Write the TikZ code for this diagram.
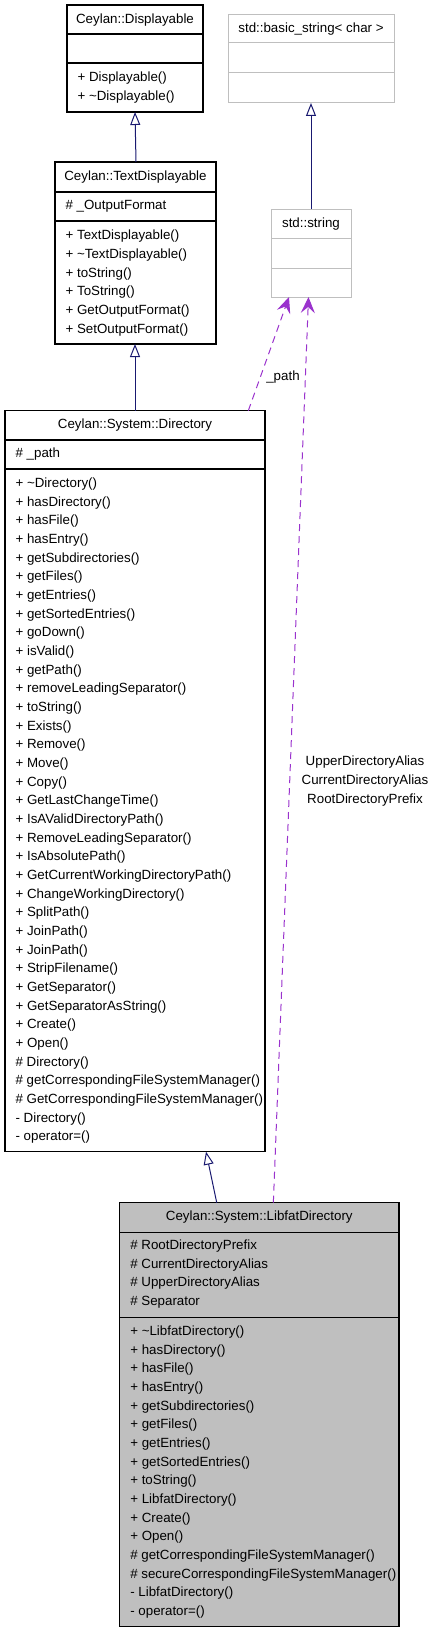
\documentclass[tikz,border=0pt]{standalone}
\usepackage{fontspec}
\setmainfont{Liberation Sans}
\usetikzlibrary{arrows.meta}
\tikzset{CLS/.style 2 args = {
    rectangle,
    anchor = north west,
    minimum width = #1,
    minimum height = #2,
    inner sep = 0pt,
    outer sep = 0pt,
    draw = black,
}}
\tikzset{TTL/.style = {inner sep = 0pt, text height = 9.5pt, text depth = 0pt}}
\tikzset{MBR/.style = {TTL, anchor = west}}
\tikzset{INH/.style = {C1, line width=1pt, -{Triangle[open, length=13pt, width=10pt, fill=white]}}}
\tikzset{USE/.style = {C2, line width=1pt, dash pattern=on 7pt off 5pt, -{Stealth[length=16pt, width=14pt, inset=6pt]}}}
\definecolor{C1}{HTML}{191970}
\definecolor{C2}{HTML}{9A32CD}
\definecolor{C3}{HTML}{BFBFBF}

\begin{document}
\begin{tikzpicture}[x=1pt,y=-1pt,line width=1.2pt]
  \fontsize{13.33}{18.67}\selectfont
  \useasboundingbox (0,0) rectangle (432,1632);
  \node[CLS={136}{107}](disp) at ( 67,    5) {};
  \node[CLS={166}{88},draw=C3,line width=1pt](bstr) at (228,   15) {};
  \node[CLS={161}{182}](tdisp) at ( 55,  162) {};
  \node[CLS={80}{88},draw=C3,line width=1pt](str) at (271,  209) {};
  \node[CLS={260}{741}](dir) at (  5,410.7) {};
  \node[CLS={279.3}{424},fill=C3](lfat) at (119.7,1202.7) {};
  \draw (67,34) -- (203,34) (67,63) -- (203,63);
  \draw[C3,line width=1pt] (228,43) -- (394,43) (228,73) -- (394,73);
  \draw (55,192) -- (216,192) (55,221) -- (216,221);
  \draw[C3,line width=1pt] (271,238) -- (351,238) (271,268) -- (351,268);
  \draw (5,440) -- (265,440) (5,469) -- (265,469);
  \draw (119.7,1232.3) -- (399,1232.3) (119.7,1317.3) -- (399,1317.3);
  \node[TTL](disp-t) at (135,  19) {Ceylan::Displayable};
  \node[TTL](bstr-t) at (311,  28) {std::basic\_string< char >};
  \node[TTL](tdisp-t) at (135.5,176) {Ceylan::TextDisplayable};
  \node[TTL](str-t) at (311,222.7) {std::string};
  \node[TTL](dir-t) at (135,423.7) {Ceylan::System::Directory};
  \node[TTL](lfat-t) at (259.3,1215.3) {Ceylan::System::LibfatDirectory};
  \foreach \m [count=\i] in {+ Displayable(), + \textasciitilde Displayable()}
    \node[MBR](disp-m\i) at (77,77+18.67*\i-18.67) {\m};
  \node[MBR](tdisp-a1) at (65,205) {\# \_OutputFormat};
  \foreach \m [count=\i] in {+ TextDisplayable(), + \textasciitilde TextDisplayable(),
      + toString(), + ToString(), + GetOutputFormat(), + SetOutputFormat()}
    \node[MBR](tdisp-m\i) at (65,235+18.67*\i-18.67) {\m};
  \node[MBR](dir-a1) at (15,452.7) {\# \_path};
  \foreach \m [count=\i] in {+ \textasciitilde Directory(), + hasDirectory(), + hasFile(),
      + hasEntry(), + getSubdirectories(), + getFiles(), + getEntries(),
      + getSortedEntries(), + goDown(), + isValid(), + getPath(),
      + removeLeadingSeparator(), + toString(), + Exists(), + Remove(), + Move(),
      + Copy(), + GetLastChangeTime(), + IsAValidDirectoryPath(),
      + RemoveLeadingSeparator(), + IsAbsolutePath(),
      + GetCurrentWorkingDirectoryPath(), + ChangeWorkingDirectory(),
      + SplitPath(), + JoinPath(), + JoinPath(), + StripFilename(),
      + GetSeparator(), + GetSeparatorAsString(), + Create(), + Open(),
      \# Directory(), \# getCorrespondingFileSystemManager(),
      \# GetCorrespondingFileSystemManager(), - Directory(), - operator=()}
    \node[MBR](dir-m\i) at (15,482.7+18.67*\i-18.67) {\m};
  \foreach \m [count=\i] in {\# RootDirectoryPrefix, \# CurrentDirectoryAlias,
      \# UpperDirectoryAlias, \# Separator}
    \node[MBR](lfat-a\i) at (129.7,1244.7+18.67*\i-18.67) {\m};
  \foreach \m [count=\i] in {+ \textasciitilde LibfatDirectory(), + hasDirectory(),
      + hasFile(), + hasEntry(), + getSubdirectories(), + getFiles(),
      + getEntries(), + getSortedEntries(), + toString(), + LibfatDirectory(),
      + Create(), + Open(), \# getCorrespondingFileSystemManager(),
      \# secureCorrespondingFileSystemManager(), - LibfatDirectory(), - operator=()}
    \node[MBR](lfat-m\i) at (129.7,1330.7+18.67*\i-18.67) {\m};
  \node[TTL](path-l) at (283,375.7) {\_path};
  \foreach \m [count=\i] in {UpperDirectoryAlias, CurrentDirectoryAlias, RootDirectoryPrefix}
    \node[TTL](use-l\i) at (365,760.7+19*\i-19) {\m};
  \draw[INH]([xshift=0.5]tdisp.north) -- (disp.south);
  \draw[INH](str.north) -- (bstr.south);
  \draw[INH](dir.north) -- ([xshift=-0.5]tdisp.south);
  \draw[INH]([xshift=-42.6]lfat.north) -- ([xshift=71]dir.south);
  \draw[USE]([xshift=113.3]dir.north) -- ([xshift=-22]str.south);
  \draw[USE]([xshift=14]lfat.north) -- ([xshift=-2.5]str.south);
\end{tikzpicture}
\end{document}
